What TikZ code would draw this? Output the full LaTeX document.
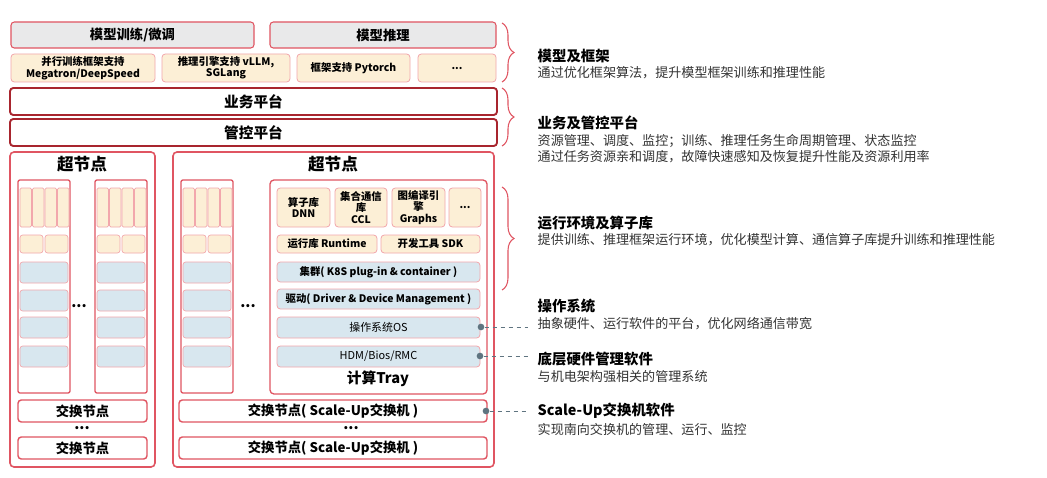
\documentclass[tikz,border=0pt]{standalone}
\usepackage{fontspec}
\setmainfont{Noto Sans CJK SC}
\usetikzlibrary{decorations.pathreplacing}
\definecolor{dred}{HTML}{A8252E}
\definecolor{lred}{HTML}{E05562}
\definecolor{pred}{HTML}{F2A7AC}
\definecolor{gfill}{HTML}{E9E9EA}
\definecolor{yfill}{HTML}{FCEFD6}
\definecolor{bfill}{HTML}{D8E7EF}
\definecolor{dotc}{HTML}{5F7480}
\begin{document}
\begin{tikzpicture}[x=0.75pt,y=-0.75pt,
 box/.style={draw, rounded corners=2.5pt, inner sep=0pt, align=center},
 gbox/.style={box, draw=lred, fill=gfill, line width=0.8pt, font=\bfseries\fontsize{10}{11}\selectfont},
 ybox/.style={box, draw=pred, fill=yfill, line width=0.6pt, font=\bfseries\fontsize{7.8}{8.6}\selectfont},
 bbox/.style={box, draw=pred, fill=bfill, line width=0.6pt, font=\bfseries\fontsize{7.8}{8.6}\selectfont},
 plat/.style={box, draw=dred, line width=1.4pt, font=\bfseries\fontsize{11}{12}\selectfont},
 frame/.style={draw=lred, line width=1.2pt, rounded corners=3pt},
 sw/.style={box, draw=lred, line width=1.1pt, font=\bfseries\fontsize{10}{11}\selectfont},
 head/.style={anchor=west, font=\bfseries\fontsize{10.8}{12}\selectfont},
 sub/.style={anchor=west, text=black!80, align=left, font=\fontsize{9.8}{12}\selectfont},
 brc/.style={draw=lred, line width=0.8pt, decorate, decoration={brace, amplitude=9pt}},
 dotl/.style={draw=dotc, dashed, line width=0.6pt},
 dt/.style={circle, fill=dotc, inner sep=0pt, minimum size=5pt},
 dots/.style={inner sep=0pt, font=\bfseries\fontsize{11}{11}\selectfont}
]
\useasboundingbox[fill=white] (0,0) rectangle (1047,478);
% top rows
\node[gbox, minimum width=243pt*0.75, minimum height=26pt*0.75] (train) at (132.5,35) {模型训练/微调};
\node[gbox, minimum width=226pt*0.75, minimum height=26pt*0.75] (infer) at (383,35) {模型推理};
\node[ybox, minimum width=144pt*0.75, minimum height=28pt*0.75] (y1) at (83,68) {并行训练框架支持\\Megatron/DeepSpeed};
\node[ybox, minimum width=128pt*0.75, minimum height=28pt*0.75] (y2) at (226,68) {推理引擎支持 vLLM,\\SGLang};
\node[ybox, minimum width=113pt*0.75, minimum height=28pt*0.75] (y3) at (353.5,68) {框架支持 Pytorch};
\node[ybox, minimum width=78pt*0.75, minimum height=28pt*0.75] (y4) at (457,68) {...};
\node[plat, minimum width=487pt*0.75, minimum height=27pt*0.75] (biz) at (253.5,101.5) {业务平台};
\node[plat, minimum width=487pt*0.75, minimum height=27pt*0.75] (mgt) at (253.5,132.5) {管控平台};
% super nodes
\draw[frame] (10,152) rectangle (155,467);
\node[font=\bfseries\fontsize{12.5}{12.5}\selectfont] (t1) at (82,164) {超节点};
\draw[frame] (173,152) rectangle (494,467);
\node[font=\bfseries\fontsize{12.5}{12.5}\selectfont] (t2) at (333,164) {超节点};
% columns
\foreach \cx/\nm in {18/a,95/b,181/c}{
 \draw[frame, line width=1pt, rounded corners=1.5pt] (\cx,180) rectangle ++(52,213);
 \foreach \i in {0,1,2,3}{
  \draw[draw=pred, fill=yfill, line width=0.5pt, rounded corners=1pt] ({\cx+2+\i*12.5},188) rectangle ++(11.5,39);}
 \draw[draw=pred, fill=yfill, line width=0.5pt, rounded corners=2pt] ({\cx+2},235) rectangle ++(23,18);
 \draw[draw=pred, fill=yfill, line width=0.5pt, rounded corners=2pt] ({\cx+27},235) rectangle ++(23,18);
 \foreach \yy in {262,290,317,346}{
  \draw[draw=pred, fill=bfill, line width=0.5pt, rounded corners=2pt] ({\cx+2},\yy) rectangle ++(48,21);}
}
\node[dots] (d1) at (79,306) {...};
\node[dots] (d2) at (248,306) {...};
% tray
\draw[frame, line width=1pt] (270,180) rectangle (487,394);
\node[ybox, minimum width=53pt*0.75, minimum height=39pt*0.75] (dnn) at (303.5,207.5) {算子库\\DNN};
\node[ybox, minimum width=52pt*0.75, minimum height=39pt*0.75] (ccl) at (361,207.5) {集合通信\\库\\CCL};
\node[ybox, minimum width=53pt*0.75, minimum height=39pt*0.75] (gr) at (418.5,207.5) {图编译引\\擎\\Graphs};
\node[ybox, minimum width=32pt*0.75, minimum height=39pt*0.75] (etc) at (465,207.5) {...};
\node[ybox, minimum width=100pt*0.75, minimum height=18pt*0.75] (rt) at (327,244) {运行库 Runtime};
\node[ybox, minimum width=99pt*0.75, minimum height=18pt*0.75] (sdk) at (430.5,244) {开发工具 SDK};
\node[bbox, minimum width=203pt*0.75, minimum height=20pt*0.75] (k8s) at (378.5,272) {集群( K8S plug-in \& container )};
\node[bbox, minimum width=203pt*0.75, minimum height=20pt*0.75] (drv) at (378.5,299) {驱动( Driver \& Device Management )};
\node[bbox, minimum width=203pt*0.75, minimum height=21pt*0.75, font=\fontsize{8.2}{9}\selectfont] (os) at (378.5,327.5) {操作系统OS};
\node[bbox, minimum width=203pt*0.75, minimum height=21pt*0.75, font=\fontsize{8.2}{9}\selectfont] (hdm) at (378.5,356.5) {HDM/Bios/RMC};
\node[font=\bfseries\fontsize{11}{11}\selectfont] (tray) at (378,379) {计算Tray};
% switches
\node[sw, minimum width=129pt*0.75, minimum height=22pt*0.75] (s1) at (82.5,411) {交换节点};
\node[dots] (d3) at (82,428) {...};
\node[sw, minimum width=129pt*0.75, minimum height=22pt*0.75] (s2) at (82.5,448) {交换节点};
\node[sw, minimum width=308pt*0.75, minimum height=22pt*0.75] (s3) at (333,411) {交换节点( Scale-Up交换机 )};
\node[dots] (d4) at (351,428) {...};
\node[sw, minimum width=308pt*0.75, minimum height=22pt*0.75] (s4) at (333,448) {交换节点( Scale-Up交换机 )};
% braces
\coordinate (b1a) at (502,23); \coordinate (b1b) at (502,82);
\coordinate (b2a) at (502,88); \coordinate (b2b) at (502,146);
\coordinate (b3a) at (502,187); \coordinate (b3b) at (502,290);
\draw[brc] (b1a) -- (b1b);
\draw[brc] (b2a) -- (b2b);
\draw[brc] (b3a) -- (b3b);
% right text
\node[head] (h1) at (533,56) {模型及框架};
\node[sub] (s1t) at (533,73) {通过优化框架算法，提升模型框架训练和推理性能};
\node[head] (h2) at (533,123) {业务及管控平台};
\node[sub] (s2t) at (533,149) {资源管理、调度、监控；训练、推理任务生命周期管理、状态监控\\通过任务资源亲和调度，故障快速感知及恢复提升性能及资源利用率};
\node[head] (h3) at (533,223) {运行环境及算子库};
\node[sub] (s3t) at (533,240) {提供训练、推理框架运行环境，优化模型计算、通信算子库提升训练和推理性能};
\node[head] (h4) at (533,306) {操作系统};
\node[sub] (s4t) at (533,324) {抽象硬件、运行软件的平台，优化网络通信带宽};
\node[head] (h5) at (533,359) {底层硬件管理软件};
\node[sub] (s5t) at (533,377) {与机电架构强相关的管理系统};
\node[head] (h6) at (533,411) {Scale-Up交换机软件};
\node[sub] (s6t) at (533,429) {实现南向交换机的管理、运行、监控};
% connectors
\node[dt] (p1) at (481,327) {}; \coordinate (e1) at (528,327);
\node[dt] (p2) at (480,356) {}; \coordinate (e2) at (528,356);
\node[dt] (p3) at (486,411) {}; \coordinate (e3) at (528,411);
\draw[dotl] (p1) -- (e1); \draw[dotl] (p2) -- (e2); \draw[dotl] (p3) -- (e3);
\end{tikzpicture}
\end{document}
